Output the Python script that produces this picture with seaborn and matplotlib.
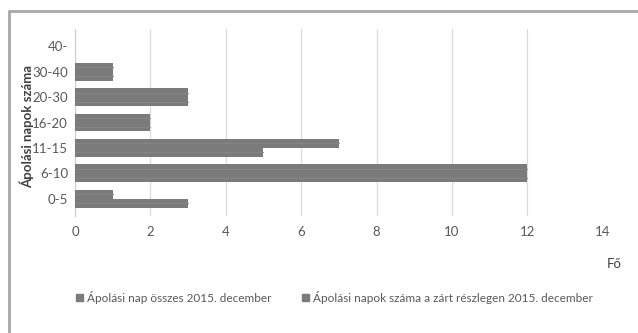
import matplotlib
matplotlib.use("Agg")
import matplotlib.pyplot as plt
import seaborn as sns
import pandas as pd
from matplotlib.patches import Patch
from matplotlib.lines import Line2D

# Length-of-stay bands (top to bottom as drawn)
categories = ["40-", "30-40", "20-30", "16-20", "11-15", "6-10", "0-5"]
series_total = "Ápolási nap összes 2015. december"
series_closed = "Ápolási napok száma a zárt részlegen 2015. december"
total_values = [0, 1, 3, 2, 5, 12, 3]
closed_values = [0, 1, 3, 2, 7, 12, 1]
x_ticks = [0, 2, 4, 6, 8, 10, 12, 14]

df = pd.DataFrame({
    "kat": categories * 2,
    "sor": [series_closed] * len(categories) + [series_total] * len(categories),
    "fo": closed_values + total_values,
})

sns.set_theme(style="white")
plt.rcParams["font.family"] = ["Lato", "DejaVu Sans"]

bar_color = "#7b7b7b"
text_color = "#595959"

fig = plt.figure(figsize=(6.38, 3.33), dpi=100)
ax = fig.add_axes([0.1176, 0.351, 0.827, 0.562])

sns.barplot(data=df, y="kat", x="fo", hue="sor", order=categories,
            hue_order=[series_closed, series_total],
            palette=[bar_color, bar_color], width=0.7, orient="h",
            linewidth=0, ax=ax, legend=False, zorder=3)

# faint highlight along each bar's middle
for p in ax.patches:
    if p.get_width() > 0:
        y0, h = p.get_y(), p.get_height()
        ax.plot([0, p.get_width()], [y0 + h / 2, y0 + h / 2],
                color="#858585", linewidth=0.8, zorder=4)

ax.set_xlim(0, 14)
ax.set_xticks(x_ticks)
ax.set_xticklabels([str(t) for t in x_ticks])
ax.grid(axis="x", color="#dcdcdc", linewidth=0.9, zorder=0)
ax.grid(axis="y", visible=False)
for s in ["top", "right", "bottom"]:
    ax.spines[s].set_visible(False)
ax.spines["left"].set_color("#d0d0d0")
ax.spines["left"].set_linewidth(0.9)
ax.tick_params(axis="x", length=0, pad=7, labelsize=9.5, labelcolor=text_color)
ax.tick_params(axis="y", length=0, pad=5, labelsize=9.5, labelcolor=text_color)
ax.set_xlabel("")
ax.set_ylabel("")

fig.text(27 / 638, 1 - 126 / 333, "Ápolási napok száma", rotation=90,
         ha="center", va="center", fontsize=9.5, fontweight="bold", color="#404040")
fig.text(614 / 638, 1 - 264 / 333, "Fő", ha="center", va="center",
         fontsize=9.5, color="#404040")

handles = [Patch(facecolor=bar_color, edgecolor=bar_color),
           Patch(facecolor=bar_color, edgecolor=bar_color)]
fig.legend(handles, [series_total, series_closed], loc="center",
           bbox_to_anchor=(0.524, 1 - 297 / 333), ncol=2, frameon=False,
           fontsize=8.5, labelcolor=text_color, handlelength=0.6,
           handleheight=0.6, handletextpad=0.3, columnspacing=2.6)

# Chart frame (top and left edges)
frame_color = "#a8a8a8"
fig.add_artist(Line2D([9 / 638, 1], [1 - 11 / 333, 1 - 11 / 333],
                      transform=fig.transFigure, color=frame_color, linewidth=2))
fig.add_artist(Line2D([9 / 638, 9 / 638], [0, 1 - 11 / 333],
                      transform=fig.transFigure, color=frame_color, linewidth=2))

fig.savefig("out.png", dpi=100, facecolor="white")
